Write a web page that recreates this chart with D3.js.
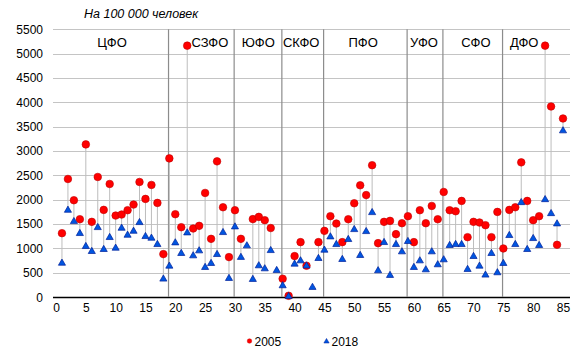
<!DOCTYPE html>
<html><head><meta charset="utf-8">
<script src="https://cdn.jsdelivr.net/npm/d3@7"></script>
<style>
body{margin:0;background:#fff;}
svg{display:block;font-family:"Liberation Sans",Arial,sans-serif;}
</style></head>
<body><svg id="c" width="578" height="355"></svg>
<script>
// Region index 1..85
const regions = d3.range(1, 86);
// 2005 values (null = no data)
const v2005 = [1311,2425,1988,1598,3135,1544,2466,1790,2322,1673,1694,1783,1899,2363,2015,2302,1933,881,
  2848,1701,1434,5164,1407,1462,2138,1195,2787,1844,820,
  1783,1195,null,1600,1646,1578,1417,null,
  376,25,840,1127,642,null,1127,
  1359,1660,1509,1127,1598,1926,2295,2094,2708,1106,1544,1564,1291,1516,
  1660,1127,1783,1516,1871,1598,
  2158,1783,1762,1974,1229,1544,1530,1475,1229,1748,
  997,1789,1844,2766,1974,1578,1660,5164,3914,1072,3668];
// 2018 values
const v2018 = [695,1783,1550,1305,1038,936,1427,977,1223,1004,1414,1270,1352,1530,1243,1209,1079,369,
  635,1113,895,1318,847,949,608,690,874,1325,382,
  1441,815,1052,362,642,580,955,545,
  232,10,676,744,638,198,792,
  963,1236,1079,772,1182,1386,854,1345,1735,540,1120,444,1079,929,
  1141,608,744,560,929,663,
  765,1059,1079,1079,567,833,635,451,895,499,
  690,1264,1079,1940,977,1202,1059,2001,1714,1503,3415];
const districts = ["ЦФО","СЗФО","ЮФО","СКФО","ПФО","УФО","СФО","ДФО"];
const districtLabelX = [9.4, 25.8, 33.9, 41.1, 51.5, 61.7, 70.4, 78.5];
const separators = [19, 30, 38, 45, 59, 65, 75];
const xTicks = d3.range(0, 86, 5);
const yTicks = d3.range(0, 5501, 500);
const series = ["2005", "2018"];

const svg = d3.select("#c");
const x = d3.scaleLinear().domain([0, 85]).range([56, 563]);
const y = d3.scaleLinear().domain([0, 5500]).range([297, 29.3]);
const left = 53, right = 570;

// gridlines
svg.append("g").selectAll("line").data(yTicks.filter(d => d > 0)).join("line")
  .attr("x1", left).attr("x2", right)
  .attr("y1", d => Math.round(y(d)) + 0.5).attr("y2", d => Math.round(y(d)) + 0.5)
  .attr("stroke", "#c4c4c4").attr("stroke-width", 1);

// y labels
svg.append("g").selectAll("text").data(yTicks).join("text")
  .attr("x", 43).attr("y", d => y(d) + 4.5)
  .attr("text-anchor", "end").attr("font-size", 12).attr("fill", "#000")
  .text(d => d);

// x axis
const xAxis = d3.axisBottom(x).tickValues(xTicks).tickSize(0).tickPadding(0);
const gx = svg.append("g").attr("transform", "translate(0,297)").call(xAxis);
gx.select(".domain").remove();
gx.selectAll("text").attr("font-size", 12).attr("dy", "1.25em").attr("fill", "#000")
  .attr("font-family", "Liberation Sans, Arial, sans-serif");
svg.append("line").attr("x1", left).attr("x2", right).attr("y1", 297.5).attr("y2", 297.5)
  .attr("stroke", "#000").attr("stroke-width", 1.3);

// separators
svg.append("g").selectAll("line").data(separators).join("line")
  .attr("x1", d => x(d) - 0.8).attr("x2", d => x(d) - 0.8)
  .attr("y1", y(5500)).attr("y2", y(0))
  .attr("stroke", "#8c8c8c").attr("stroke-width", 1.2);

// connectors
const pairs = regions.map((r, i) => ({r, a: v2005[i], b: v2018[i]}));
svg.append("g").selectAll("line").data(pairs.filter(d => d.a != null)).join("line")
  .attr("x1", d => x(d.r)).attr("x2", d => x(d.r))
  .attr("y1", d => y(d.a)).attr("y2", d => y(d.b))
  .attr("stroke", "#bdbdbd").attr("stroke-width", 1);

// district labels
svg.append("g").selectAll("text").data(districts).join("text")
  .attr("x", (d, i) => x(districtLabelX[i])).attr("y", 47)
  .attr("text-anchor", "middle").attr("font-size", 13).attr("fill", "#000")
  .text(d => d);

// 2005 circles
svg.append("g").selectAll("circle").data(pairs.filter(d => d.a != null)).join("circle")
  .attr("cx", d => x(d.r)).attr("cy", d => y(d.a)).attr("r", 3.8)
  .attr("fill", "#ff0000").attr("stroke", "#c00000").attr("stroke-width", 0.6);

// 2018 triangles
const tri = d3.symbol().type(d3.symbolTriangle).size(22);
svg.append("g").selectAll("path").data(pairs).join("path")
  .attr("d", tri)
  .attr("transform", d => `translate(${x(d.r)},${y(d.b)})`)
  .attr("fill", "#0055e0").attr("stroke", "#00209a").attr("stroke-width", 0.7);

// title
svg.append("text").attr("x", 84).attr("y", 18).attr("font-size", 12.5)
  .attr("font-style", "italic").attr("fill", "#000").text("На 100 000 человек");

// legend
const lg = svg.append("g");
lg.append("circle").attr("cx", 249.5).attr("cy", 341).attr("r", 2.3).attr("fill", "#ff0000").attr("stroke", "#c00000").attr("stroke-width", 0.4);
lg.append("text").attr("x", 254.5).attr("y", 345.5).attr("font-size", 12).text(series[0]);
lg.append("path").attr("d", d3.symbol().type(d3.symbolTriangle).size(12)())
  .attr("transform", "translate(326.5,341.5)").attr("fill", "#0055e0").attr("stroke", "#00209a").attr("stroke-width", 0.5);
lg.append("text").attr("x", 331.5).attr("y", 345.5).attr("font-size", 12).text(series[1]);
</script>
</body></html>
